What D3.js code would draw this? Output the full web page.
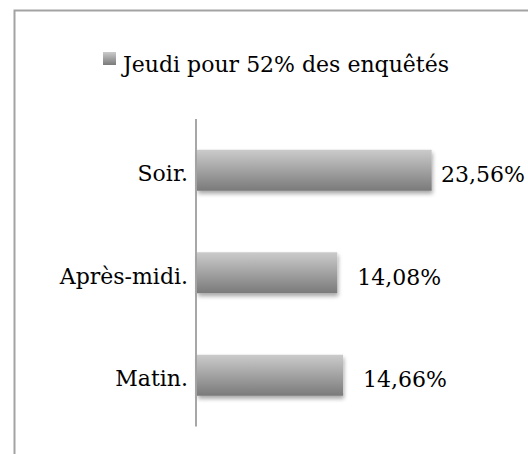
<!DOCTYPE html>
<html>
<head>
<meta charset="utf-8">
<script src="https://cdn.jsdelivr.net/npm/d3@7"></script>
<style>
  html, body { margin: 0; padding: 0; background: #fff; }
  svg { display: block; }
  text { font-family: "DejaVu Serif", serif; fill: #000; }
</style>
</head>
<body>
<svg id="chart" width="528" height="454"></svg>
<script>
// Time-of-day breakdown (Thursday)
const categories = ["Soir.", "Après-midi.", "Matin."];
const values = [23.56, 14.08, 14.66];
const valueLabels = ["23,56%", "14,08%", "14,66%"];
const seriesName = "Jeudi pour 52% des enquêtés";
const xDomain = [0, 25];

const svg = d3.select("#chart");
const defs = svg.append("defs");

// Vertical grey gradient used by bars and the legend key
const grad = defs.append("linearGradient")
  .attr("id", "barGrad").attr("x1", 0).attr("y1", 0).attr("x2", 0).attr("y2", 1);
grad.append("stop").attr("offset", "0%").attr("stop-color", "#cbcbcb");
grad.append("stop").attr("offset", "100%").attr("stop-color", "#7a7a7a");

// Soft shadow under each bar
const shadow = defs.append("filter").attr("id", "barShadow")
  .attr("x", "-10%").attr("y", "-20%").attr("width", "130%").attr("height", "160%");
shadow.append("feGaussianBlur").attr("in", "SourceAlpha").attr("stdDeviation", 2.2).attr("result", "blur");
shadow.append("feOffset").attr("in", "blur").attr("dx", 1).attr("dy", 3).attr("result", "off");
shadow.append("feComponentTransfer").attr("in", "off").attr("result", "soft")
  .append("feFuncA").attr("type", "linear").attr("slope", 0.35);
const merge = shadow.append("feMerge");
merge.append("feMergeNode").attr("in", "soft");
merge.append("feMergeNode").attr("in", "SourceGraphic");

// Chart frame
svg.append("rect")
  .attr("x", 14.5).attr("y", 10.5).attr("width", 600).attr("height", 600)
  .attr("fill", "none").attr("stroke", "#a3a3a3").attr("stroke-width", 2);

const plotLeft = 197, plotTop = 119, plotBottom = 426.5, chartRight = 525;

const x = d3.scaleLinear().domain(xDomain).range([plotLeft, 446]);
const y = d3.scaleBand().domain(categories).range([plotTop, plotBottom])
  .paddingInner(0.6).paddingOuter(0.3);

// Bars
svg.append("g").selectAll("rect")
  .data(categories)
  .join("rect")
  .attr("x", x(0))
  .attr("y", d => y(d))
  .attr("width", (d, i) => x(values[i]) - x(0))
  .attr("height", y.bandwidth())
  .attr("fill", "url(#barGrad)")
  .attr("filter", "url(#barShadow)");

// Category axis
const yAxis = svg.append("g")
  .attr("transform", `translate(${plotLeft - 1},0)`)
  .call(d3.axisLeft(y).tickSize(0).tickPadding(8));
yAxis.select(".domain").attr("stroke", "#8a8a8a").attr("stroke-width", 1.5)
  .attr("d", `M0,${plotTop}V${plotBottom}`);
yAxis.selectAll("text")
  .attr("font-family", "DejaVu Serif, serif")
  .attr("font-size", 22)
  .attr("fill", "#000")
  .attr("dy", null)
  .attr("y", 11);

// Value labels
const labels = svg.append("g").selectAll("text")
  .data(categories)
  .join("text")
  .attr("font-size", 22)
  .attr("y", d => y(d) + y.bandwidth() / 2 + 12)
  .text((d, i) => valueLabels[i]);
labels.attr("x", function(d, i) {
  const w = this.getComputedTextLength();
  return Math.max(x(values[i]) + 1, Math.min(x(values[i]) + 20, chartRight - w));
});

// Legend
const legend = svg.append("g");
legend.append("rect")
  .attr("x", 103).attr("y", 52).attr("width", 13).attr("height", 13)
  .attr("fill", "url(#barGrad)");
legend.append("text")
  .attr("x", 123).attr("y", 72)
  .attr("font-size", 22)
  .text(seriesName);
</script>
</body>
</html>
